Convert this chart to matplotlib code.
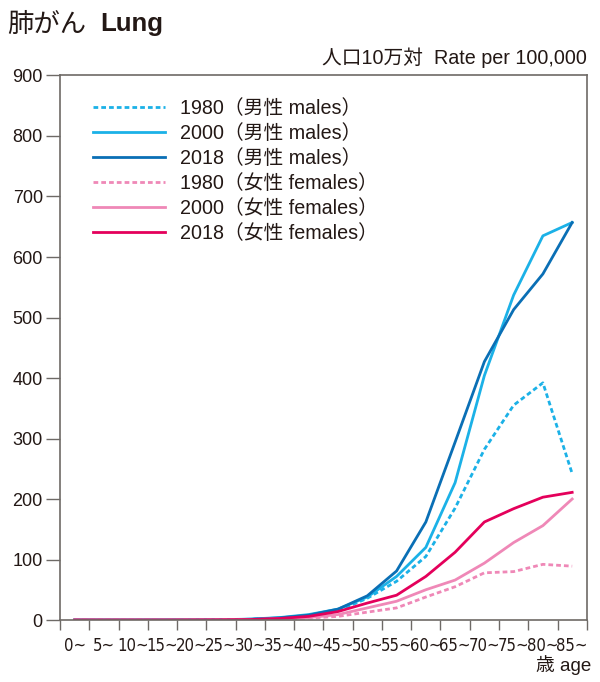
import numpy as np
import matplotlib
matplotlib.use("Agg")
import matplotlib.pyplot as plt
from matplotlib import font_manager
from matplotlib.ticker import FixedLocator, NullFormatter


# Data (rate per 100,000 by 5-year age group)
age_labels = ["0~", "5~", "10~", "15~", "20~", "25~", "30~", "35~", "40~",
              "45~", "50~", "55~", "60~", "65~", "70~", "75~", "80~", "85~"]

males_1980 = [0.0, 0.0, 0.0, 0.1, 0.2, 0.4, 1.2, 3.0, 7.0,
              15.0, 36.0, 64.0, 105.0, 185.0, 282.0, 355.0, 392.0, 242.0]
males_2000 = [0.0, 0.0, 0.0, 0.1, 0.2, 0.5, 1.5, 4.0, 9.0,
              18.0, 38.0, 72.0, 120.0, 227.0, 404.0, 537.0, 635.0, 657.0]
males_2018 = [0.0, 0.0, 0.0, 0.1, 0.2, 0.5, 1.2, 3.5, 8.0,
              18.0, 40.0, 81.0, 162.0, 294.0, 427.0, 513.0, 572.0, 657.0]
females_1980 = [0.0, 0.0, 0.0, 0.0, 0.1, 0.3, 0.8, 1.5, 3.0,
                6.0, 13.0, 20.0, 38.0, 55.0, 78.0, 80.0, 92.0, 89.0]
females_2000 = [0.0, 0.0, 0.0, 0.0, 0.1, 0.3, 0.8, 2.0, 4.0,
                9.0, 20.0, 31.0, 50.0, 66.0, 94.0, 128.0, 156.0, 200.0]
females_2018 = [0.0, 0.0, 0.0, 0.0, 0.1, 0.3, 0.8, 2.5, 6.0,
                14.0, 28.0, 41.0, 72.0, 112.0, 162.0, 184.0, 203.0, 211.0]

series_labels = ["1980（男性 males）", "2000（男性 males）", "2018（男性 males）",
                 "1980（女性 females）", "2000（女性 females）", "2018（女性 females）"]

# Colors
light_blue = "#1bb1e7"
dark_blue = "#0a6fb5"
pink = "#ef88b7"
crimson = "#e4005b"
grey = "#6e6a66"
text_color = "#231815"

plt.rcParams["font.family"] = ["Liberation Sans", "Noto Sans CJK JP", "DejaVu Sans"]

# age labels sit edge to edge, so use a condensed face when one is installed
age_font = ["Liberation Sans"]
age_stretch = "normal"
age_size = 11
for f in font_manager.fontManager.ttflist:
    if f.name in ("DejaVu Sans", "Liberation Sans") and f.stretch == "condensed" \
            and f.style == "normal" and f.weight in (400, "normal"):
        age_font = [f.name]
        age_stretch = "condensed"
        age_size = 12
        break

fig = plt.figure(figsize=(6.0, 6.82), dpi=100)
ax = fig.add_axes([0.1, 0.0909, 0.878, 0.7984])

x = np.arange(len(age_labels))
lw = 2.0
dash = (0, (1.7, 1.1))

ax.plot(x, males_1980, color=light_blue, linewidth=lw, linestyle=dash, label=series_labels[0])
ax.plot(x, males_2000, color=light_blue, linewidth=lw, label=series_labels[1])
ax.plot(x, males_2018, color=dark_blue, linewidth=lw, label=series_labels[2])
ax.plot(x, females_1980, color=pink, linewidth=lw, linestyle=dash, label=series_labels[3])
ax.plot(x, females_2000, color=pink, linewidth=lw, label=series_labels[4])
ax.plot(x, females_2018, color=crimson, linewidth=lw, label=series_labels[5])

ax.set_xlim(-0.5, len(age_labels) - 0.5)
ax.set_ylim(0, 900)

# y axis
ax.set_yticks(np.arange(0, 901, 100))
ax.tick_params(axis="y", direction="out", length=10, width=1, color=grey,
               labelsize=13, labelcolor=text_color, pad=2.4)

# x axis: tick marks at group boundaries, labels at centers
ax.set_xticks(x)
ax.set_xticklabels(age_labels, family=age_font, stretch=age_stretch,
                   fontsize=age_size, color=text_color)
ax.tick_params(axis="x", which="major", length=0, pad=12)
ax.xaxis.set_minor_locator(FixedLocator(np.arange(-0.5, len(age_labels), 1.0)))
ax.xaxis.set_minor_formatter(NullFormatter())
ax.tick_params(axis="x", which="minor", direction="out", length=7, width=1, color=grey)

for spine in ax.spines.values():
    spine.set_color(grey)
    spine.set_linewidth(1.2)

leg = ax.legend(loc="upper left", bbox_to_anchor=(0.0474, 0.971), frameon=False,
                fontsize=14.2, handlelength=3.65, handletextpad=0.75,
                labelspacing=0.30, borderaxespad=0)
for t in leg.get_texts():
    t.set_color(text_color)

# Titles and unit notes
fig.text(7 / 600, 1 - 24 / 682, "肺がん", fontsize=19, color=text_color,
         va="center", ha="left", family=["Noto Sans CJK JP"])
fig.text(100 / 600, 1 - 24 / 682, "Lung", fontsize=18.6, color=text_color,
         va="center", ha="left", fontweight="bold")
fig.text(587 / 600, 1 - 58 / 682, "人口10万対  Rate per 100,000", fontsize=14.2,
         color=text_color, va="center", ha="right")
fig.text(591 / 600, 1 - 665 / 682, "歳 age", fontsize=13.5, color=text_color,
         va="center", ha="right")

fig.savefig("out.png", dpi=100)
